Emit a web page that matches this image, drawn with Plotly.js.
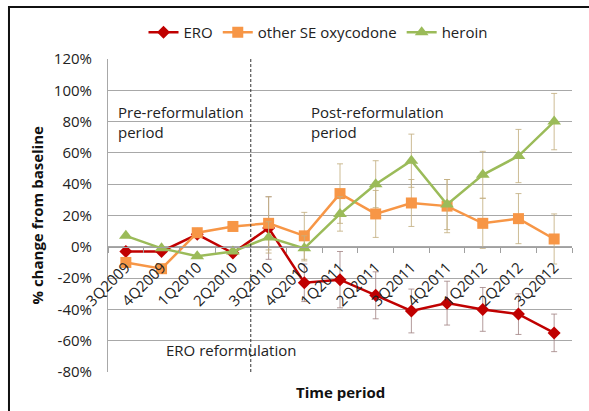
<!DOCTYPE html>
<html>
<head>
<meta charset="utf-8">
<script src="https://cdn.plot.ly/plotly-3.0.1.min.js"></script>
<style>html,body{margin:0;padding:0;background:#fff;}#chart{width:589px;height:411px;}</style>
</head>
<body>
<div id="chart"></div>
<script>
var periods = ["3Q2009","4Q2009","1Q2010","2Q2010","3Q2010","4Q2010","1Q2011","2Q2011","3Q2011","4Q2011","1Q2012","2Q2012","3Q2012"];
var eroValues = [-3, -3, 8, -4, 12, -23, -21, -31, -41, -36, -40, -43, -55];
var eroErrors = [null, null, null, null, 20, 12, 18, 15, 14, 14, 14, 13, 12];
var oxyValues = [-10, -14, 9, 13, 15, 7, 34, 21, 28, 26, 15, 18, 5];
var oxyErrors = [null, null, null, null, 17, 15, 19, 15, 15, 17, 16, 16, 16];
var heroinValues = [7, -1, -6, -3, 6, -1, 21, 40, 55, 27, 46, 58, 80];
var heroinErrors = [null, null, null, null, 10, 8, 11, 15, 17, 16, 15, 17, 18];
var seriesNames = ["ERO", "other SE oxycodone", "heroin"];
var yTicks = [-80, -60, -40, -20, 0, 20, 40, 60, 80, 100, 120];
var yTickText = yTicks.map(function (v) { return v + "%"; });

var font = "Open Sans, sans-serif";
function tr(name, y, err, color, symbol, size, errColor) {
  return {
    type: "scatter", mode: "lines+markers", name: name,
    x: periods, y: y,
    line: {color: color, width: 2.5},
    marker: {symbol: symbol, size: size, color: color},
    error_y: {type: "data", array: err, visible: true, color: errColor, thickness: 1, width: 3}
  };
}
var data = [
  tr(seriesNames[0], eroValues, eroErrors, "#c00000", "diamond", 10, "rgba(160,130,130,0.8)"),
  tr(seriesNames[1], oxyValues, oxyErrors, "#f79646", "square", 11, "rgba(196,176,130,0.85)"),
  tr(seriesNames[2], heroinValues, heroinErrors, "#9bbb59", "triangle-up", 12, "rgba(196,176,130,0.85)")
];
var layout = {
  width: 589, height: 411,
  margin: {l: 108, r: 17, t: 59, b: 39},
  paper_bgcolor: "#fff", plot_bgcolor: "#fff",
  font: {family: font, size: 15, color: "#222"},
  showlegend: true,
  legend: {orientation: "h", x: (318-108)/464, xanchor: "center", y: 1.085, yanchor: "middle",
           font: {family: font, size: 15, color: "#222"}, bgcolor: "rgba(0,0,0,0)"},
  xaxis: {
    type: "category", range: [-0.5, 12.5], anchor: "free", position: 0.4,
    tickson: "boundaries", ticks: "outside", ticklen: 5, tickcolor: "#a0a0a0",
    showgrid: false, showline: true, linecolor: "#a0a0a0", linewidth: 1,
    tickangle: -45, ticklabelstandoff: 5,
    tickfont: {family: font, size: 15, color: "#222"}, fixedrange: true
  },
  yaxis: {
    range: [-80, 120], tickmode: "array", tickvals: yTicks, ticktext: yTickText,
    showgrid: true, gridcolor: "#a8a8a8", gridwidth: 1, zeroline: false,
    showline: true, linecolor: "#a8a8a8", ticks: "", ticklabelstandoff: 12,
    tickfont: {family: font, size: 15, color: "#222"}
  },
  shapes: [
    {type: "line", xref: "x", yref: "paper", x0: 3.5, x1: 3.5, y0: 0, y1: 1,
     line: {color: "#333", width: 1, dash: "3px,2px"}},
    {type: "rect", xref: "paper", yref: "paper", x0: -0.2134, x1: 1.2, y0: -0.5, y1: 1.166,
     line: {color: "#111", width: 2}, fillcolor: "rgba(0,0,0,0)", layer: "above"}
  ],
  annotations: [
    {xref: "paper", yref: "paper", x: (116-108)/464, y: 1-(122-59)/313, xanchor: "left", yanchor: "middle",
     text: "Pre-reformulation<br>period", showarrow: false, align: "left",
     font: {family: font, size: 15, color: "#222"}},
    {xref: "paper", yref: "paper", x: (309-108)/464, y: 1-(122-59)/313, xanchor: "left", yanchor: "middle",
     text: "Post-reformulation<br>period", showarrow: false, align: "left",
     font: {family: font, size: 15, color: "#222"}},
    {xref: "paper", yref: "paper", x: (164-108)/464, y: 1-(350-59)/313, xanchor: "left", yanchor: "middle",
     text: "ERO reformulation", showarrow: false, align: "left",
     font: {family: font, size: 15, color: "#222"}},
    {xref: "paper", yref: "paper", x: 0.5, y: 1-(392-59)/313, xanchor: "center", yanchor: "middle",
     text: "<b>Time period</b>", showarrow: false,
     font: {family: font, size: 15, color: "#111"}},
    {xref: "paper", yref: "paper", x: (36-108)/464, y: 0.5, xanchor: "center", yanchor: "middle",
     text: "<b>% change from baseline</b>", showarrow: false, textangle: -90,
     font: {family: font, size: 15, color: "#111"}}
  ]
};
Plotly.newPlot("chart", data, layout, {displayModeBar: false, staticPlot: true});
</script>
</body>
</html>
